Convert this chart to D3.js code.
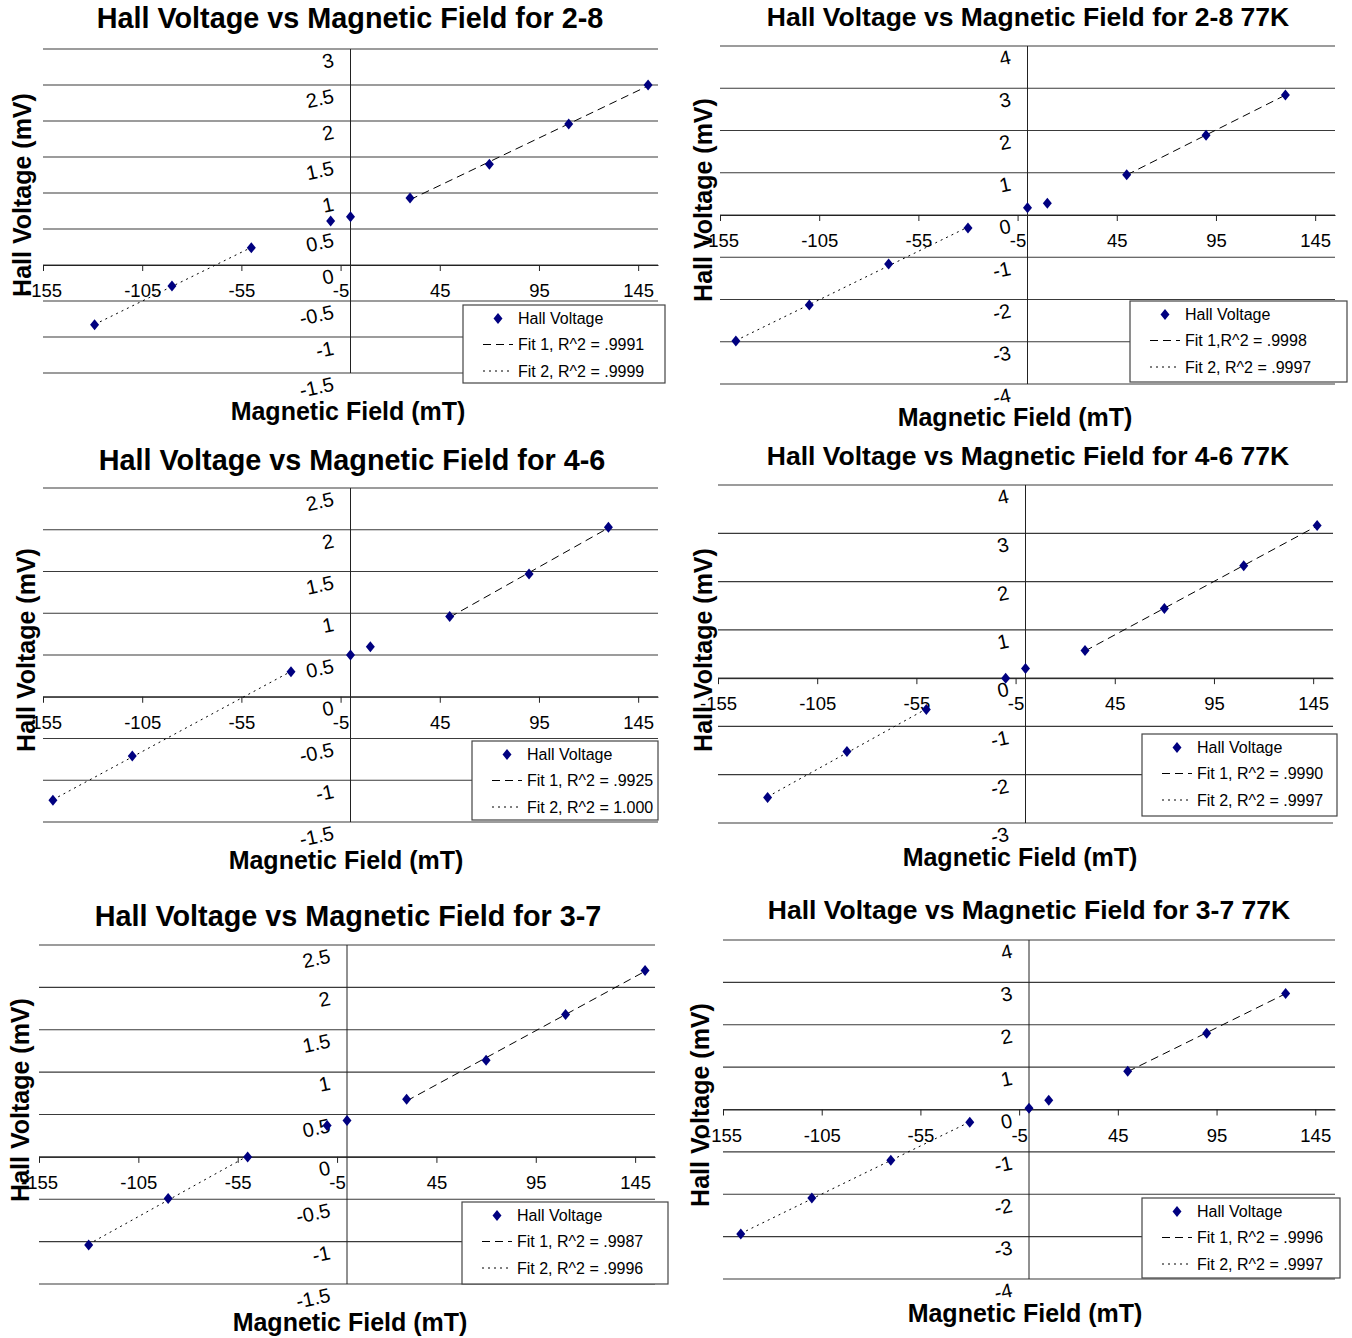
<!DOCTYPE html>
<meta charset="utf-8">
<title>Hall Voltage vs Magnetic Field</title>
<style>
body { margin: 0; background: #fff; }
svg { font-family: "Liberation Sans", Arial, sans-serif; }
</style>
<body>
<script src="https://cdn.jsdelivr.net/npm/d3@7"></script>
<script>
// values
const titles = [
  "Hall Voltage vs Magnetic Field for 2-8",
  "Hall Voltage vs Magnetic Field for 2-8 77K",
  "Hall Voltage vs Magnetic Field for 4-6",
  "Hall Voltage vs Magnetic Field for 4-6 77K",
  "Hall Voltage vs Magnetic Field for 3-7",
  "Hall Voltage vs Magnetic Field for 3-7 77K"
];
const xTicks = [-155, -105, -55, -5, 45, 95, 145];

const field_28 = [-129, -90, -50, -10, 0, 30, 70, 110, 150];
const volt_28 = [-0.83, -0.29, 0.24, 0.61, 0.67, 0.93, 1.40, 1.96, 2.50];
const fit1_28 = [30, 150], fit2_28 = [-129, -50];
const yTicks_28 = [-1.5, -1, -0.5, 0, 0.5, 1, 1.5, 2, 2.5, 3];
const legend_28 = ["Hall Voltage", "Fit 1, R^2 = .9991", "Fit 2, R^2 = .9999"];

const field_28c = [-147, -110, -70, -30, 0, 10, 50, 90, 130];
const volt_28c = [-2.98, -2.13, -1.16, -0.31, 0.17, 0.28, 0.95, 1.89, 2.84];
const fit1_28c = [50, 130], fit2_28c = [-147, -30];
const yTicks_28c = [-4, -3, -2, -1, 0, 1, 2, 3, 4];
const legend_28c = ["Hall Voltage", "Fit 1,R^2 = .9998", "Fit 2, R^2 = .9997"];

const field_46 = [-150, -110, -30, 0, 10, 50, 90, 130];
const volt_46 = [-1.24, -0.71, 0.30, 0.50, 0.60, 0.96, 1.47, 2.03];
const fit1_46 = [50, 130], fit2_46 = [-150, -30];
const yTicks_46 = [-1.5, -1, -0.5, 0, 0.5, 1, 1.5, 2, 2.5];
const legend_46 = ["Hall Voltage", "Fit 1, R^2 = .9925", "Fit 2, R^2 = 1.000"];

const field_46c = [-130, -90, -50, -10, 0, 30, 70, 110, 147];
const volt_46c = [-2.47, -1.52, -0.65, 0.0, 0.20, 0.57, 1.44, 2.33, 3.16];
const fit1_46c = [30, 147], fit2_46c = [-130, -50];
const yTicks_46c = [-3, -2, -1, 0, 1, 2, 3, 4];
const legend_46c = ["Hall Voltage", "Fit 1, R^2 = .9990", "Fit 2, R^2 = .9997"];

const field_37 = [-130, -90, -50, -10, 0, 30, 70, 110, 150];
const volt_37 = [-1.04, -0.49, 0.0, 0.37, 0.43, 0.68, 1.14, 1.68, 2.20];
const fit1_37 = [30, 150], fit2_37 = [-130, -50];
const yTicks_37 = [-1.5, -1, -0.5, 0, 0.5, 1, 1.5, 2, 2.5];
const legend_37 = ["Hall Voltage", "Fit 1, R^2 = .9987", "Fit 2, R^2 = .9996"];

const field_37c = [-146, -110, -70, -30, 0, 10, 50, 90, 130];
const volt_37c = [-2.94, -2.09, -1.20, -0.30, 0.03, 0.22, 0.90, 1.80, 2.74];
const fit1_37c = [50, 130], fit2_37c = [-146, -30];
const yTicks_37c = [-4, -3, -2, -1, 0, 1, 2, 3, 4];
const legend_37c = ["Hall Voltage", "Fit 1, R^2 = .9996", "Fit 2, R^2 = .9997"];

// panel layout: plot box [left, right, top, bottom], legend box [x, y, w, h]
const panels = [
  {title: titles[0], tSize: 28.8, tPos: [350, 18], field: field_28, volt: volt_28, fit1: fit1_28, fit2: fit2_28, yTicks: yTicks_28, legend: legend_28,
   box: [43, 658, 49, 373], leg: [463, 305, 202, 78], yt: [22, 195], xt: [348, 411]},
  {title: titles[1], tSize: 26.5, tPos: [1028, 17], field: field_28c, volt: volt_28c, fit1: fit1_28c, fit2: fit2_28c, yTicks: yTicks_28c, legend: legend_28c,
   box: [720, 1335, 46, 384], leg: [1130, 301, 217, 81], yt: [703, 200], xt: [1015, 417]},
  {title: titles[2], tSize: 28.8, tPos: [352, 460], field: field_46, volt: volt_46, fit1: fit1_46, fit2: fit2_46, yTicks: yTicks_46, legend: legend_46,
   box: [43, 658, 488, 822], leg: [472, 741, 186, 79], yt: [26, 650], xt: [346, 860]},
  {title: titles[3], tSize: 26.5, tPos: [1028, 456], field: field_46c, volt: volt_46c, fit1: fit1_46c, fit2: fit2_46c, yTicks: yTicks_46c, legend: legend_46c,
   box: [718, 1333, 485, 823], leg: [1142, 734, 195, 82], yt: [703, 650], xt: [1020, 857]},
  {title: titles[4], tSize: 28.8, tPos: [348, 916], field: field_37, volt: volt_37, fit1: fit1_37, fit2: fit2_37, yTicks: yTicks_37, legend: legend_37,
   box: [39, 655, 945, 1284], leg: [462, 1202, 206, 82], yt: [20, 1100], xt: [350, 1322]},
  {title: titles[5], tSize: 26.5, tPos: [1029, 910], field: field_37c, volt: volt_37c, fit1: fit1_37c, fit2: fit2_37c, yTicks: yTicks_37c, legend: legend_37c,
   box: [723, 1335, 940, 1279], leg: [1142, 1198, 198, 80], yt: [700, 1105], xt: [1025, 1313]}
];

const svg = d3.select("body").append("svg")
    .attr("width", 1352)
    .attr("height", 1338);

const diamond = "M0,-5.5L4.5,0L0,5.5L-4.5,0Z";

// least squares line over the points whose field lies in [lo, hi]
function fitLine(xs, ys, range) {
  const pts = d3.zip(xs, ys).filter(d => d[0] >= range[0] && d[0] <= range[1]);
  const mx = d3.mean(pts, d => d[0]), my = d3.mean(pts, d => d[1]);
  const sxy = d3.sum(pts, d => (d[0] - mx) * (d[1] - my));
  const sxx = d3.sum(pts, d => (d[0] - mx) * (d[0] - mx));
  const m = sxy / sxx, b = my - m * mx;
  return range.map(v => [v, m * v + b]);
}

panels.forEach(function(p) {
  const g = svg.append("g");
  const x = d3.scaleLinear().domain([-155, 155]).range([p.box[0], p.box[1]]);
  const y = d3.scaleLinear().domain(d3.extent(p.yTicks)).range([p.box[3], p.box[2]]);

  // title
  g.append("text")
    .attr("x", p.tPos[0]).attr("y", p.tPos[1])
    .attr("text-anchor", "middle").attr("dominant-baseline", "central")
    .style("font-weight", "bold").style("font-size", p.tSize + "px")
    .text(p.title);

  // horizontal gridlines
  g.selectAll("line.grid").data(p.yTicks).join("line")
    .attr("class", "grid")
    .attr("x1", p.box[0]).attr("x2", p.box[1])
    .attr("y1", d => y(d)).attr("y2", d => y(d))
    .attr("stroke", "#3a3a3a").attr("stroke-width", 1.2);

  // vertical axis line at B = 0
  g.append("line")
    .attr("x1", x(0)).attr("x2", x(0))
    .attr("y1", p.box[2]).attr("y2", p.box[3])
    .attr("stroke", "#222").attr("stroke-width", 1);

  // y tick labels (slanted as in the scan)
  const ya = g.append("g")
    .attr("transform", "translate(" + x(0) + ",0)")
    .call(d3.axisLeft(y).tickValues(p.yTicks).tickSize(0).tickFormat(d => String(d)));
  ya.select(".domain").remove();
  ya.selectAll("text")
    .attr("x", 0).attr("dy", "0.35em")
    .attr("transform", "translate(-17,10) rotate(-12)")
    .style("font-size", "20px").style("font-family", "'Liberation Sans', Arial, sans-serif")
    .attr("fill", "#000");

  // x axis crossing at V = 0
  const xa = g.append("g")
    .attr("transform", "translate(0," + y(0) + ")")
    .call(d3.axisBottom(x).tickValues(xTicks).tickSize(6).tickSizeOuter(0).tickPadding(13)
      .tickFormat(d => String(d)));
  xa.select(".domain").attr("stroke", "#222");
  xa.selectAll(".tick line").attr("stroke", "#222");
  xa.selectAll("text")
    .style("font-size", "18.5px").style("font-family", "'Liberation Sans', Arial, sans-serif")
    .attr("fill", "#000");

  // fit lines
  const line = d3.line().x(d => x(d[0])).y(d => y(d[1]));
  g.append("path")
    .attr("d", line(fitLine(p.field, p.volt, p.fit1)))
    .attr("fill", "none").attr("stroke", "#000").attr("stroke-width", 1)
    .attr("stroke-dasharray", "8,5");
  g.append("path")
    .attr("d", line(fitLine(p.field, p.volt, p.fit2)))
    .attr("fill", "none").attr("stroke", "#000").attr("stroke-width", 1)
    .attr("stroke-dasharray", "2,4");

  // data points
  g.selectAll("path.pt").data(d3.zip(p.field, p.volt)).join("path")
    .attr("class", "pt")
    .attr("d", diamond)
    .attr("transform", d => "translate(" + x(d[0]) + "," + y(d[1]) + ")")
    .attr("fill", "#000080");

  // axis titles
  g.append("text")
    .attr("transform", "translate(" + p.yt[0] + "," + p.yt[1] + ") rotate(-90)")
    .attr("text-anchor", "middle").attr("dominant-baseline", "central")
    .style("font-weight", "bold").style("font-size", "25px")
    .text("Hall Voltage (mV)");
  g.append("text")
    .attr("x", p.xt[0]).attr("y", p.xt[1])
    .attr("text-anchor", "middle").attr("dominant-baseline", "central")
    .style("font-weight", "bold").style("font-size", "25px")
    .text("Magnetic Field (mT)");

  // legend
  const lg = g.append("g").attr("transform", "translate(" + p.leg[0] + "," + p.leg[1] + ")");
  lg.append("rect")
    .attr("width", p.leg[2]).attr("height", p.leg[3])
    .attr("fill", "#fff").attr("stroke", "#444").attr("stroke-width", 1.2);
  const rows = [13.5, 39.5, 66];
  lg.append("path").attr("d", diamond)
    .attr("transform", "translate(35," + rows[0] + ")").attr("fill", "#000080");
  lg.append("line").attr("x1", 20).attr("x2", 50).attr("y1", rows[1]).attr("y2", rows[1])
    .attr("stroke", "#000").attr("stroke-dasharray", "8,5");
  lg.append("line").attr("x1", 20).attr("x2", 50).attr("y1", rows[2]).attr("y2", rows[2])
    .attr("stroke", "#000").attr("stroke-dasharray", "2,4");
  lg.selectAll("text").data(p.legend).join("text")
    .attr("x", 55).attr("y", (d, i) => rows[i])
    .attr("dominant-baseline", "central")
    .style("font-size", "16px")
    .text(d => d);
});
</script>
</body>
